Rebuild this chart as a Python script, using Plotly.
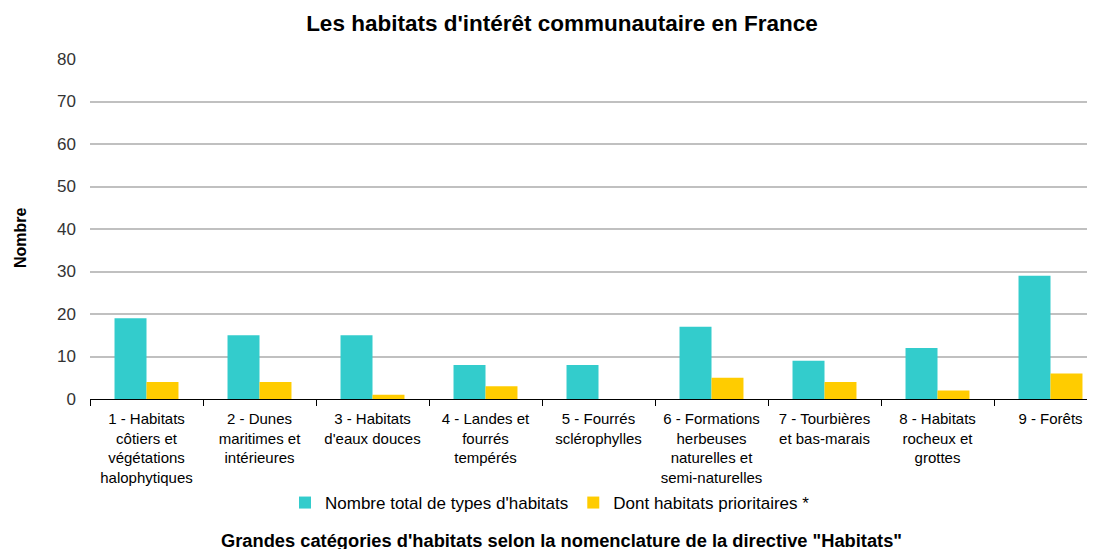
import plotly.graph_objects as go

categories = [
    "1 - Habitats<br>côtiers et<br>végétations<br>halophytiques",
    "2 - Dunes<br>maritimes et<br>intérieures",
    "3 - Habitats<br>d'eaux douces",
    "4 - Landes et<br>fourrés<br>tempérés",
    "5 - Fourrés<br>sclérophylles",
    "6 - Formations<br>herbeuses<br>naturelles et<br>semi-naturelles",
    "7 - Tourbières<br>et bas-marais",
    "8 - Habitats<br>rocheux et<br>grottes",
    "9 - Forêts",
]
total_types = [19, 15, 15, 8, 8, 17, 9, 12, 29]
prioritaires = [4, 4, 1, 3, 0, 5, 4, 2, 6]
series_names = ["Nombre total de types d'habitats", "Dont habitats prioritaires *"]

FONT = "Liberation Sans, Arial, sans-serif"
OFF = 8  # page body offset
W, H = 1095, 549
ML, MR, MT, MB = 90 - OFF, 0, 59 - OFF, H - (399 - OFF)
PW = W - ML - MR
PH = H - MT - MB
CAT = 113.0


def px_x(sx):
    return (sx - OFF - ML) / PW


def px_y(sy):
    return (H - MB - (sy - OFF)) / PH


fig = go.Figure()
fig.add_trace(go.Bar(x=categories, y=total_types, name=series_names[0],
                     marker=dict(color="#33CCCC", line=dict(width=0))))
fig.add_trace(go.Bar(x=categories, y=prioritaires, name=series_names[1],
                     marker=dict(color="#FFCC00", line=dict(width=0))))

fig.update_layout(
    width=W, height=H,
    margin=dict(l=ML, r=MR, t=MT, b=MB, autoexpand=False),
    paper_bgcolor="white", plot_bgcolor="white",
    font=dict(family=FONT, size=14, color="#000000"),
    bargap=0.434, bargroupgap=0,
    title=dict(text="<b>Les habitats d'intérêt communautaire en France</b>",
               x=(562 - OFF) / W, xanchor="center", xref="container",
               y=1 - (23 - OFF) / H, yanchor="middle", yref="container",
               font=dict(family=FONT, size=22.5, color="#000")),
    showlegend=True,
    legend=dict(orientation="h", x=px_x(285), xanchor="left", y=px_y(503), yanchor="middle",
                font=dict(family=FONT, size=17), traceorder="normal",
                itemwidth=30, bgcolor="rgba(0,0,0,0)"),
    xaxis=dict(tickson="boundaries", ticks="outside", ticklen=6, tickcolor="#000",
               showline=True, linecolor="#000", linewidth=1, showgrid=False,
               range=[-0.5, -0.5 + PW / CAT], automargin=False,
               tickfont=dict(family=FONT, size=15), tickangle=0, ticklabelstandoff=6),
    yaxis=dict(range=[0, 80], dtick=10, showgrid=True, gridcolor="#C0C0C0", gridwidth=1.5,
               zeroline=False, showline=False, ticks="", ticklabelstandoff=13,
               automargin=False,
               tickfont=dict(family=FONT, size=17, color="#333")),
    annotations=[
        dict(text="<b>Nombre</b>", textangle=-90, x=px_x(20), xref="paper",
             y=px_y(238), yref="paper",
             showarrow=False, font=dict(family=FONT, size=16), xanchor="center", yanchor="middle"),
        dict(text="<b>Grandes catégories d'habitats selon la nomenclature de la directive \"Habitats\"</b>",
             x=px_x(561), xref="paper", y=px_y(540), yref="paper", showarrow=False,
             font=dict(family=FONT, size=18.3), xanchor="center", yanchor="middle"),
    ],
)

fig.write_html("out.html")
